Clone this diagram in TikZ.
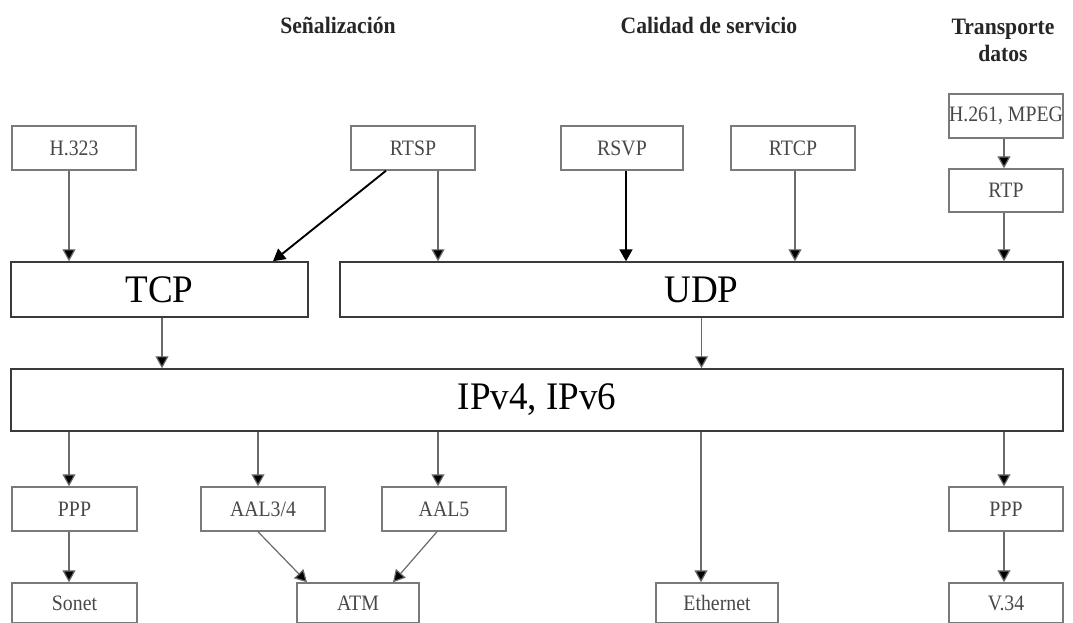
\documentclass[tikz,border=0pt]{standalone}
\usepackage{fontspec}
\setmainfont{Liberation Serif}
\newfontfamily\smallfam[FakeStretch=0.9]{Liberation Serif}
\newfontfamily\headfam[FakeStretch=0.92]{Liberation Serif}
\newfontfamily\bigfam[FakeStretch=0.95]{Liberation Serif}
\usetikzlibrary{arrows.meta}
\definecolor{boxgray}{HTML}{7A7A7A}
\definecolor{txtgray}{HTML}{484848}
\definecolor{linegray}{HTML}{6A6A6A}
\definecolor{bigline}{HTML}{3A3A3A}
\tikzset{
  sbox/.style={draw=boxgray, line width=1.4pt, inner sep=0pt, text=txtgray,
    font=\smallfam\fontsize{22}{24}\selectfont},
  bbox/.style={draw=bigline, line width=1.5pt, inner sep=0pt, text=black,
    font=\bigfam\fontsize{39}{42}\selectfont},
  head/.style={font=\headfam\bfseries\fontsize{23.5}{30}\selectfont, align=center, text=black!85},
  arr/.style={draw=linegray, line width=1.2pt, -{Triangle[width=13pt,length=12pt,fill=black]}},
  tarr/.style={draw=black, line width=1.9pt, -{Triangle[width=13pt,length=12pt,fill=black]}}
}
\begin{document}
\begin{tikzpicture}[x=1pt,y=-1pt]
\useasboundingbox[fill=white] (0,0) rectangle (1073,622);
% headers
\node[head] (hsen) at (338,25) {Señalización};
\node[head] (hcal) at (709,25) {Calidad de servicio};
\node[head] (htra) at (1003,40) {Transporte\\[-3pt]datos};
% top boxes
\node[sbox, minimum width=124, minimum height=44] (h323) at (74,148) {H.323};
\node[sbox, minimum width=124, minimum height=44] (rtsp) at (413,148) {RTSP};
\node[sbox, minimum width=122, minimum height=44] (rsvp) at (622,148) {RSVP};
\node[sbox, minimum width=124, minimum height=44] (rtcp) at (793,148) {RTCP};
\node[sbox, minimum width=114, minimum height=44] (h261) at (1006,116) {H.261, MPEG};
\node[sbox, minimum width=114, minimum height=43] (rtp) at (1006,190.5) {RTP};
% transport
\node[bbox, minimum width=297, minimum height=55] (tcp) at (159.5,289.5) {TCP};
\node[bbox, minimum width=723, minimum height=55] (udp) at (701.5,289.5) {UDP};
\node[bbox, minimum width=1052, minimum height=62] (ip) at (537,400) {IPv4, IPv6};
% lower boxes
\node[sbox, minimum width=125, minimum height=44] (ppp1) at (74.5,509) {PPP};
\node[sbox, minimum width=124, minimum height=44] (aal34) at (263,509) {AAL3/4};
\node[sbox, minimum width=124, minimum height=44] (aal5) at (444,509) {AAL5};
\node[sbox, minimum width=114, minimum height=44] (ppp2) at (1006,509) {PPP};
\node[sbox, minimum width=125, minimum height=40] (sonet) at (74.5,603) {Sonet};
\node[sbox, minimum width=122, minimum height=40] (atm) at (358,603) {ATM};
\node[sbox, minimum width=122, minimum height=40] (eth) at (717,603) {Ethernet};
\node[sbox, minimum width=114, minimum height=40] (v34) at (1006,603) {V.34};
% arrows top
\draw[arr] ([xshift=-5]h323.south) -- ([xshift=-5]h323.south |- tcp.north);
\draw[tarr] ([xshift=-27]rtsp.south) -- ([xshift=113.5]tcp.north);
\draw[arr] ([xshift=25]rtsp.south) -- ([xshift=25]rtsp.south |- udp.north);
\draw[tarr] ([xshift=4]rsvp.south) -- ([xshift=4]rsvp.south |- udp.north);
\draw[arr] ([xshift=2]rtcp.south) -- ([xshift=2]rtcp.south |- udp.north);
\draw[arr] ([xshift=-2]h261.south) -- ([xshift=-2]rtp.north);
\draw[arr] ([xshift=-2]rtp.south) -- ([xshift=-2]rtp.south |- udp.north);
% transport to ip
\draw[arr] ([xshift=2.5]tcp.south) -- ([xshift=2.5]tcp.south |- ip.north);
\draw[arr] (udp.south) -- (udp.south |- ip.north);
% ip to lower
\draw[arr] ([xshift=-5.5]ppp1.north |- ip.south) -- ([xshift=-5.5]ppp1.north);
\draw[arr] ([xshift=-5]aal34.north |- ip.south) -- ([xshift=-5]aal34.north);
\draw[arr] ([xshift=-6]aal5.north |- ip.south) -- ([xshift=-6]aal5.north);
\draw[arr] ([xshift=-16]eth.north |- ip.south) -- ([xshift=-16]eth.north);
\draw[arr] ([xshift=-2]ppp2.north |- ip.south) -- ([xshift=-2]ppp2.north);
% lower links
\draw[arr] ([xshift=-5.5]ppp1.south) -- ([xshift=-5.5]sonet.north);
\draw[arr] ([xshift=-5]aal34.south) -- ([xshift=-51]atm.north);
\draw[arr] ([xshift=-7]aal5.south) -- ([xshift=35]atm.north);
\draw[arr] ([xshift=-2]ppp2.south) -- ([xshift=-2]v34.north);
\end{tikzpicture}
\end{document}
